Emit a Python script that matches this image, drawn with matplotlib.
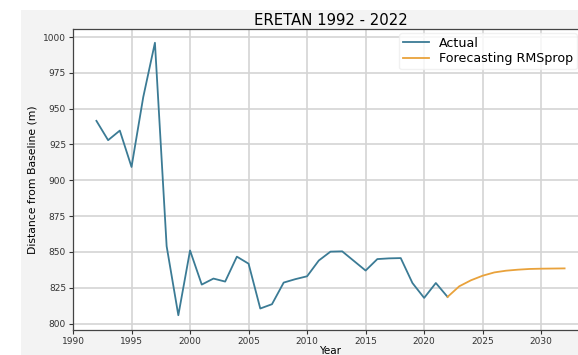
import matplotlib
matplotlib.use("Agg")
import matplotlib.pyplot as plt
from matplotlib.patches import Rectangle

# Shoreline distance from baseline, ERETAN
years_actual = list(range(1992, 2023))
distance_actual = [941.5, 928.0, 934.7, 909.3, 958.0, 996.0, 854.0, 805.8, 851.0, 827.2,
                   831.4, 829.3, 846.7, 841.8, 810.5, 813.5, 828.6, 831.0, 833.0, 844.0,
                   850.2, 850.4, 843.7, 837.0, 845.0, 845.5, 845.7, 828.3, 817.9, 828.3,
                   818.6]

years_forecast = list(range(2022, 2033))
distance_forecast = [818.6, 826.0, 830.2, 833.4, 835.7, 836.9, 837.6, 838.1, 838.3, 838.4, 838.5]

title = "ERETAN 1992 - 2022"
xlabel = "Year"
ylabel = "Distance from Baseline (m)"

W, H = 578, 355
fig = plt.figure(figsize=(W / 100, H / 100), dpi=100, facecolor="white")

# light grey canvas behind the plot area
fig.patches.append(Rectangle((21 / W, 0), 1 - 21 / W, 1 - 10 / H,
                             transform=fig.transFigure, facecolor="#f3f3f3",
                             edgecolor="none", zorder=-10))

left, right = 73 / W, 588 / W
bottom, top = 1 - 330 / H, 1 - 29 / H
ax = fig.add_axes([left, bottom, right - left, top - bottom])
ax.set_facecolor("white")
ax.set_zorder(1)

ax.plot(years_actual, distance_actual, color="#3b7b95", lw=1.3, label="Actual")
ax.plot(years_forecast, distance_forecast, color="#e9a23b", lw=1.3,
        label="Forecasting RMSprop")

ax.set_xlim(1990, 2034)
ax.set_ylim(795.5, 1005.6)
ax.set_xticks(range(1990, 2031, 5))
ax.set_yticks(range(800, 1001, 25))
ax.grid(True, color="#d4d4d4", lw=1.2)
ax.set_axisbelow(True)

ax.tick_params(labelsize=6.5, length=3, width=0.8, pad=2, colors="#333333")
for s in ax.spines.values():
    s.set_color("#444444")
    s.set_linewidth(0.9)

ax.set_title(title, fontsize=10.7, pad=3)
ax.set_xlabel(xlabel, fontsize=7.5, labelpad=0)
ax.set_ylabel(ylabel, fontsize=7.8, labelpad=4)

ax.legend(loc="upper left", bbox_to_anchor=(399 / W, 1 - 33 / H),
          bbox_transform=fig.transFigure, borderaxespad=0,
          fontsize=9.1, frameon=True, framealpha=0.8,
          edgecolor="#eeeeee", handlelength=2.1, handletextpad=0.75,
          labelspacing=0.2, borderpad=0.3)

fig.savefig("out.png", dpi=100, facecolor="white")
